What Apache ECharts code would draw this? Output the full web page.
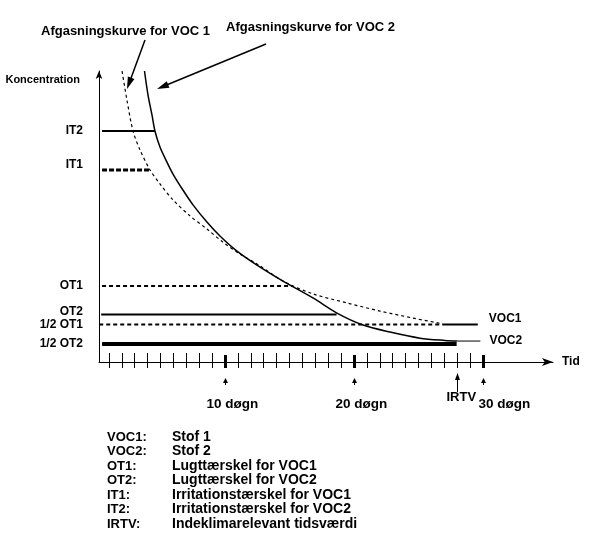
<!DOCTYPE html>
<html>
<head>
<meta charset="utf-8">
<script src="https://cdn.jsdelivr.net/npm/echarts@6/dist/echarts.min.js"></script>
<style>html,body{margin:0;padding:0;background:#fff;}#c{width:601px;height:552px;}</style>
</head>
<body>
<div id="c"></div>
<script>
// ---------- DATA ----------
const labelledDays = [10, 20, 30];
const minorTickDays = [1,2,3,4,5,6,7,8,9,11,12,13,14,15,16,17,18,19,21,22,23,24,25,26,27,28,29];
const dayLabels = ['10 døgn', '20 døgn', '30 døgn'];
const irtvDay = 28;

const voc1Days = [2.02, 2.40, 2.87, 3.41, 4.19, 4.96, 5.97, 7.29, 8.60, 9.84, 11.16, 12.48, 14.50, 16.82, 19.46, 22.02, 24.57, 26.90];
const voc1Conc = [100, 90.0, 79.4, 72.9, 66.0, 61.2, 55.7, 50.2, 45.7, 41.2, 37.1, 33.7, 27.8, 23.4, 20.3, 17.5, 15.1, 13.1];
const voc1Tail = [26.9, 29.6];
const voc1TailConc = 12.9;

const voc2Days = [3.76, 4.03, 4.34, 4.57, 4.96, 5.50, 5.97, 6.74, 7.52, 8.60, 9.61, 10.93, 12.48, 14.50, 16.82, 18.68, 20.70, 22.79, 25.12, 27.05, 27.98];
const voc2Conc = [100, 91.8, 84.9, 79.4, 73.9, 68.7, 64.6, 59.1, 54.0, 48.1, 43.3, 38.1, 33.3, 27.8, 22.0, 16.8, 12.7, 10.3, 8.2, 7.4, 7.2];
const voc2Tail = [27.98, 29.8];
const voc2TailConc = 7.2;

const thresholdNames  = ['IT2', 'IT1', 'OT1', 'OT2', '1/2 OT1', '1/2 OT2'];
const thresholdValues = [79.4, 66.0, 26.1, 16.3, 12.9, 6.2];
const thresholdStart  = [0.47, 0.47, 0.47, 0.4, 0.25, 0.47];
const thresholdEnd    = [4.57, 4.19, 15.27, 18.65, 26.9, 27.96];

const legendKeys = ['VOC1:', 'VOC2:', 'OT1:', 'OT2:', 'IT1:', 'IT2:', 'IRTV:'];
const legendTexts = ['Stof 1', 'Stof 2', 'Lugttærskel for VOC1', 'Lugttærskel for VOC2',
  'Irritationstærskel for VOC1', 'Irritationstærskel for VOC2', 'Indeklimarelevant tidsværdi'];
const curveTitles = ['Afgasningskurve for VOC 1', 'Afgasningskurve for VOC 2'];

// ---------- STYLE / LAYOUT ----------
const FONT = '"Liberation Sans", Arial, sans-serif';
const X_MIN = 0.233, X_MAX = 35.43;
const thresholdStyles = {
  'IT2': {width: 2, type: 'solid'},
  'IT1': {width: 3, type: [5, 2]},
  'OT1': {width: 2, type: [4, 3]},
  'OT2': {width: 2, type: 'solid'},
  '1/2 OT1': {width: 2, type: [4, 3]},
  '1/2 OT2': {width: 4, type: 'solid'}
};
const labelShift = {'IT1': 10, 'OT2': 6};

const zip = (xs, ys) => xs.map((x, i) => [x, ys[i]]);

const chart = echarts.init(document.getElementById('c'), null, {renderer: 'canvas'});

const xBase = {
  type: 'value', min: X_MIN, max: X_MAX, position: 'bottom', gridIndex: 0,
  splitLine: {show: false}, axisLabel: {show: false},
  axisLine: {show: false, onZero: false}, axisTick: {show: false}
};
const tickLine = w => ({color: '#000', width: w});

const rich = {};
thresholdNames.forEach((n, i) => {
  rich['t' + i] = {fontFamily: FONT, fontWeight: 'bold', fontSize: 12, color: '#000',
    padding: [0, 0, labelShift[n] || 0, 0]};
});

const series = [];
series.push({
  type: 'line', name: 'VOC1', data: zip(voc1Days, voc1Conc), smooth: 0.3,
  symbol: 'none', clip: false, lineStyle: {color: '#000', width: 1.2, type: [3, 3]}
});
series.push({
  type: 'line', name: 'VOC2', data: zip(voc2Days, voc2Conc), smooth: 0.3,
  symbol: 'none', clip: false, lineStyle: {color: '#000', width: 1.5}
});
series.push({
  type: 'line', name: 'VOC1 tail', data: voc1Tail.map(d => [d, voc1TailConc]), symbol: 'none', clip: false,
  lineStyle: {color: '#000', width: 2},
  endLabel: {show: true, formatter: 'VOC1', distance: 11, offset: [0, -6], color: '#000',
    fontFamily: FONT, fontWeight: 'bold', fontSize: 12}
});
series.push({
  type: 'line', name: 'VOC2 tail', data: voc2Tail.map(d => [d, voc2TailConc]), symbol: 'none', clip: false,
  lineStyle: {color: '#000', width: 1},
  endLabel: {show: true, formatter: 'VOC2', distance: 9, color: '#000',
    fontFamily: FONT, fontWeight: 'bold', fontSize: 12}
});
thresholdNames.forEach((n, i) => {
  series.push({
    type: 'line', name: n, symbol: 'none', clip: false,
    data: [[thresholdStart[i], thresholdValues[i]], [thresholdEnd[i], thresholdValues[i]]],
    lineStyle: {color: '#000', width: thresholdStyles[n].width, type: thresholdStyles[n].type, cap: 'butt'}
  });
});

const option = {
  animation: false,
  backgroundColor: '#fff',
  textStyle: {fontFamily: FONT},
  grid: {left: 99, right: 48, top: 71, bottom: 190, containLabel: false},
  xAxis: [
    Object.assign({}, xBase, {
      name: 'Tid', nameLocation: 'end', nameGap: 9,
      nameTextStyle: {fontFamily: FONT, fontWeight: 'bold', fontSize: 12, color: '#000', verticalAlign: 'middle', padding: [0, 0, 8, 0]},
      axisLine: {show: true, onZero: false, symbol: ['none', 'arrow'], symbolSize: [6, 11], lineStyle: {color: '#000', width: 1}},
      axisTick: {show: true, inside: false, length: 6, customValues: minorTickDays, lineStyle: tickLine(1)}
    }),
    Object.assign({}, xBase, {axisTick: {show: true, inside: true, length: 9, customValues: minorTickDays, lineStyle: tickLine(1)}}),
    Object.assign({}, xBase, {axisTick: {show: true, inside: true, length: 7, customValues: labelledDays, lineStyle: tickLine(3)}}),
    Object.assign({}, xBase, {axisTick: {show: true, inside: false, length: 6, customValues: labelledDays, lineStyle: tickLine(3)}})
  ],
  yAxis: {
    type: 'value', min: 0, max: 100,
    name: 'Koncentration', nameLocation: 'end', nameGap: -9,
    nameTextStyle: {fontFamily: FONT, fontWeight: 'bold', fontSize: 11, color: '#000', align: 'right', verticalAlign: 'middle', padding: [0, 19, 0, 0]},
    splitLine: {show: false},
    axisLine: {show: true, onZero: false, symbol: ['none', 'arrow'], symbolSize: [5, 8], lineStyle: {color: '#000', width: 1}},
    axisTick: {show: false},
    axisLabel: {
      show: true, margin: 16, customValues: thresholdValues,
      formatter: function (v) {
        let bi = 0, bd = Infinity;
        thresholdValues.forEach((t, i) => { const d = Math.abs(t - v); if (d < bd) { bd = d; bi = i; } });
        return '{t' + bi + '|' + thresholdNames[bi] + '}';
      },
      rich: rich
    }
  },
  series: series
};
chart.setOption(option);

// ---------- ANNOTATIONS ----------
function arrow(x1, y1, x2, y2, headLen, headW, lw) {
  const dx = x2 - x1, dy = y2 - y1, L = Math.hypot(dx, dy), ux = dx / L, uy = dy / L;
  const bx = x2 - ux * headLen, by = y2 - uy * headLen;
  const px = -uy * headW / 2, py = ux * headW / 2;
  return [
    {type: 'line', silent: true, shape: {x1: x1, y1: y1, x2: bx + ux, y2: by + uy}, style: {stroke: '#000', lineWidth: lw}},
    {type: 'polygon', silent: true, shape: {points: [[x2, y2], [bx + px, by + py], [bx - px, by - py]]}, style: {fill: '#000'}}
  ];
}
function text(t, x, y, size, align) {
  return {type: 'text', silent: true, style: {text: t, x: x, y: y, fill: '#000', align: align || 'left', verticalAlign: 'middle',
    font: 'bold ' + size + 'px ' + FONT}};
}
const px = (d, v) => chart.convertToPixel({gridIndex: 0}, [d, v]);
const g = [];
const axisY = px(X_MIN, 0)[1];

// small arrows and day labels
labelledDays.forEach((d, i) => {
  const x = Math.round(px(d, 0)[0]) + 0.5;
  g.push.apply(g, arrow(x, axisY + 23, x, axisY + 16, 5, 5, 1));
  g.push(text(dayLabels[i], x + (i === 2 ? -5 : -19), axisY + 42, 13.5));
});
// IRTV arrow
const xi = Math.round(px(irtvDay, 0)[0]) + 0.5;
g.push.apply(g, arrow(xi, axisY + 30, xi, axisY + 11, 7, 5, 1));
g.push(text('IRTV', xi - 11, axisY + 35, 13));

// curve titles + pointer arrows
g.push(text(curveTitles[0], 41, 31, 13));
g.push(text(curveTitles[1], 226, 27, 13));
g.push.apply(g, arrow(145, 40, 127, 89, 12, 7, 1.5));
g.push.apply(g, arrow(266, 44, 157, 89, 12, 7, 1.5));

// legend block
legendKeys.forEach((k, i) => {
  const y = 437 + i * 14.5;
  g.push(text(k, 107, y, 13));
  g.push(text(legendTexts[i], 172, y, 14));
});
chart.setOption({graphic: g});
</script>
</body>
</html>
